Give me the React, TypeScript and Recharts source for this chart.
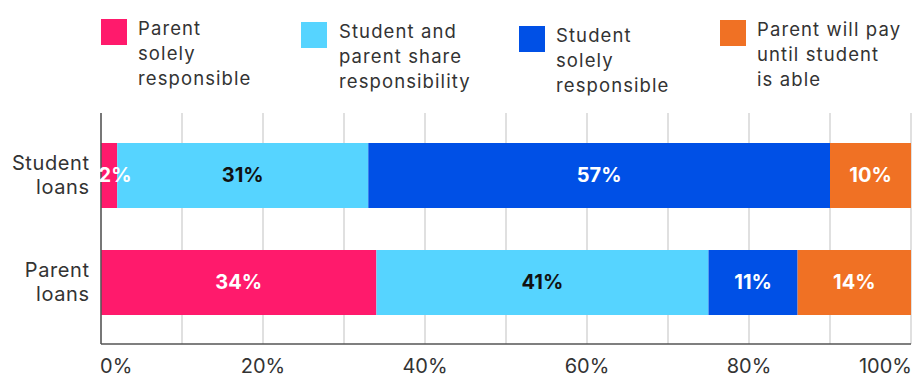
import React from "react";
import { BarChart, Bar, XAxis, YAxis, CartesianGrid, LabelList } from "recharts";

const categories = ["Student loans", "Parent loans"];
const parentSolely = [2, 34];
const shared = [31, 41];
const studentSolely = [57, 11];
const parentUntilAble = [10, 14];
const xTicks = [0, 10, 20, 30, 40, 50, 60, 70, 80, 90, 100];

const seriesKeys = ["parentSolely", "shared", "studentSolely", "parentUntilAble"];
const seriesNames = [
  ["Parent", "solely", "responsible"],
  ["Student and", "parent share", "responsibility"],
  ["Student", "solely", "responsible"],
  ["Parent will pay", "until student", "is able"],
];
const seriesColors = ["#ff1a6c", "#56d4ff", "#0050e6", "#f07124"];
const labelColors = ["#ffffff", "#111111", "#ffffff", "#ffffff"];

const data = categories.map((c, i) => ({
  category: c,
  parentSolely: parentSolely[i],
  shared: shared[i],
  studentSolely: studentSolely[i],
  parentUntilAble: parentUntilAble[i],
}));

const FONT = "Inter, 'Noto Sans', sans-serif";
const legendPos = [
  { left: 101, top: 19, textLeft: 138 },
  { left: 301, top: 22, textLeft: 339 },
  { left: 519, top: 26, textLeft: 556 },
  { left: 720, top: 20, textLeft: 757 },
];

const XTick = (props: any) => {
  const { x, payload } = props;
  const v = payload.value;
  if (v % 20 !== 0) return null;
  const anchor = v === 0 ? "start" : v === 100 ? "end" : "middle";
  const dx = v === 0 ? -1 : v === 100 ? 1 : 0;
  return (
    <text x={x + dx} y={372.5} textAnchor={anchor} fill="#333" fontSize={20} fontFamily={FONT}>
      {v}%
    </text>
  );
};

const YTick = (props: any) => {
  const { y, payload } = props;
  const words = String(payload.value).split(" ");
  return (
    <text x={89.6} y={y} textAnchor="end" fill="#333" fontSize={20} fontFamily={FONT} letterSpacing={0.6}>
      {words.map((w, i) => (
        <tspan key={i} x={89.6} y={y - 1 + (i - (words.length - 1) / 2) * 24 + 7}>
          {w}
        </tspan>
      ))}
    </text>
  );
};

const makeLabel = (color: string) => (props: any) => {
  const { x, y, width, height, value } = props;
  const cx = Math.max(x + width / 2, x + 14);
  return (
    <text
      x={cx}
      y={y + height / 2 + 6}
      textAnchor="middle"
      fill={color}
      fontSize={20}
      fontWeight={700}
      fontFamily={FONT}
    >
      {value}%
    </text>
  );
};

export default function App() {
  return (
    <div style={{ position: "absolute", left: 0, top: 0, width: 915, height: 375, background: "#fff" }}>
      {seriesNames.map((lines, i) => (
        <React.Fragment key={i}>
          <div
            style={{
              position: "absolute",
              left: legendPos[i].left,
              top: legendPos[i].top,
              width: 26,
              height: 26,
              background: seriesColors[i],
            }}
          />
          <div
            style={{
              position: "absolute",
              left: legendPos[i].textLeft,
              top: legendPos[i].top - 3,
              fontFamily: FONT,
              fontSize: 18.5,
              letterSpacing: "1.1px",
              lineHeight: "25px",
              color: "#333",
              whiteSpace: "nowrap",
            }}
          >
            {lines.map((l, j) => (
              <div key={j}>{l}</div>
            ))}
          </div>
        </React.Fragment>
      ))}
      <BarChart
        width={915}
        height={375}
        data={data}
        layout="vertical"
        margin={{ top: 113, right: 4, bottom: 0, left: 0 }}
        barSize={65}
      >
        <CartesianGrid horizontal={false} stroke="#cccccc" strokeWidth={1.2} />
        <XAxis
          type="number"
          domain={[0, 100]}
          ticks={xTicks}
          interval={0}
          tick={<XTick />}
          tickLine={false}
          axisLine={{ stroke: "#555", strokeWidth: 1.5 }}
          height={31}
        />
        <YAxis
          type="category"
          dataKey="category"
          width={101}
          tick={<YTick />}
          tickLine={false}
          axisLine={{ stroke: "#555", strokeWidth: 1.5 }}
          padding={{ top: 9, bottom: 8 }}
        />
        {seriesKeys.map((k, i) => (
          <Bar key={k} dataKey={k} stackId="a" fill={seriesColors[i]} isAnimationActive={false}>
            <LabelList dataKey={k} content={makeLabel(labelColors[i])} />
          </Bar>
        ))}
      </BarChart>
    </div>
  );
}
